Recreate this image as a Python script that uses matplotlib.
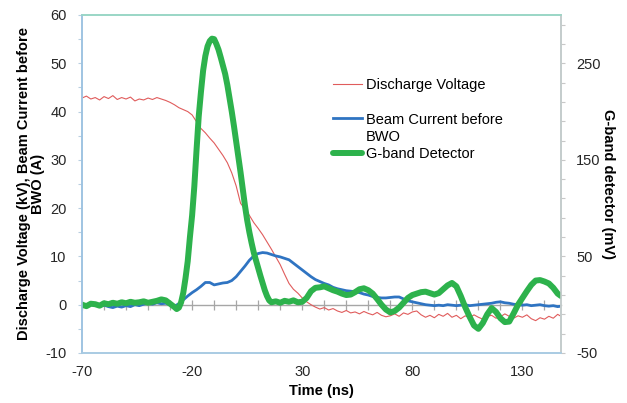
import matplotlib

matplotlib.use("Agg")
import matplotlib.pyplot as plt
from matplotlib.lines import Line2D
from matplotlib.ticker import MultipleLocator

plt.rcParams["font.family"] = ["Liberation Sans", "DejaVu Sans"]

# sampling grid (ns) shared by the discharge voltage and beam current traces
time_ns = [
    -70, -68, -66, -64, -62, -60, -58, -56, -54, -52, -50, -48, -46, -44, -42, -40, -38, -36,
    -34, -32, -30, -28, -26, -24, -22, -20, -18, -16, -14, -12, -10, -8, -6, -4, -2, 0,
    2, 4, 6, 8, 10, 12, 14, 16, 18, 20, 22, 24, 26, 28, 30, 32, 34, 36,
    38, 40, 42, 44, 46, 48, 50, 52, 54, 56, 58, 60, 62, 64, 66, 68, 70, 72,
    74, 76, 78, 80, 82, 84, 86, 88, 90, 92, 94, 96, 98, 100, 102, 104, 106, 108,
    110, 112, 114, 116, 118, 120, 122, 124, 126, 128, 130, 132, 134, 136, 138, 140, 142, 144,
    146, 147.5,
]
voltage_kv = [
    42.8, 43.2, 42.6, 42.9, 42.4, 43.1, 42.7, 43.3, 42.5, 42.9, 42.6, 43.0, 42.2, 42.6, 42.4, 42.8, 42.5, 42.9,
    42.6, 42.3, 41.9, 41.4, 40.8, 40.4, 40.0, 39.3, 37.9, 36.5, 35.6, 34.5, 33.5, 32.2, 30.9, 29.4, 27.3, 24.6,
    21.0, 19.8, 18.5, 17.0, 15.8, 14.5, 13.0, 11.5, 9.9, 8.3, 6.3, 4.4, 3.2, 2.4, 1.4, 0.6, 0.0, -0.5,
    -0.9, -0.6, -1.1, -0.8, -1.3, -1.6, -1.2, -1.7, -1.5, -1.9, -1.4, -1.8, -2.1, -1.6, -2.2, -2.5, -2.3, -1.9,
    -2.4, -1.7, -2.0, -1.5, -1.3, -2.1, -2.6, -2.2, -2.7, -2.0, -2.4, -1.8, -2.6, -2.2, -2.9, -2.3, -2.7, -2.1,
    -2.6, -3.0, -2.4, -2.2, -2.8, -2.5, -1.9, -2.4, -2.8, -2.3, -2.6, -2.1, -2.9, -3.3, -2.7, -3.0, -2.4, -2.8,
    -2.0, -2.4,
]
current_a = [
    0.1, -0.2, 0.2, 0.0, -0.3, -0.1, -0.4, -0.6, -0.3, -0.5, -0.2, -0.4, 0.0, -0.2, 0.1, 0.3, 0.1, 0.4,
    0.2, 0.3, 0.0, -0.3, 0.2, 1.0, 1.8, 2.5, 3.1, 3.8, 4.6, 4.6, 4.1, 4.3, 4.5, 4.6, 5.0, 5.8,
    6.9, 8.0, 9.2, 10.1, 10.6, 10.8, 10.7, 10.4, 10.1, 9.9, 9.6, 9.3, 8.6, 7.9, 7.2, 6.5, 5.8, 5.2,
    4.8, 4.4, 4.1, 3.6, 3.3, 3.1, 2.9, 2.8, 2.7, 2.5, 2.2, 2.0, 1.7, 1.5, 1.4, 1.4, 1.5, 1.6,
    1.6, 1.2, 0.8, 0.6, 0.4, 0.2, 0.0, -0.1, -0.2, -0.1, -0.2, 0.0, -0.1, -0.2, -0.1, 0.0, -0.2, -0.1,
    0.0, 0.1, 0.2, 0.3, 0.5, 0.6, 0.4, 0.3, 0.1, 0.0, -0.1, 0.0, -0.2, -0.1, 0.0, -0.2, -0.3, -0.2,
    -0.4, -0.3,
]

# G-band detector trace, sampled more finely around the pulse
gband_t = [
    -70, -68, -66, -64, -62, -60, -58, -56, -54, -52, -50, -48, -46, -44, -42, -40, -38, -36,
    -34, -32, -30, -28,
    -27, -26, -25, -24, -23, -22, -21, -20, -19, -18, -17, -16, -15, -14, -13, -12, -11, -10,
    -9, -8, -7, -6, -5, -4, -3, -2, -1, 0, 1, 2, 3, 4, 5, 6, 7, 8, 9, 10, 11, 12, 13, 14, 15, 16,
    18, 20, 22, 24, 26, 28, 30, 32, 34, 36, 38, 40, 42, 44, 46, 48, 50, 52, 54, 56, 58, 60,
    62, 64, 66, 68, 70, 72, 74, 76, 78, 80, 82, 84, 86, 88, 90, 92, 94, 96, 98, 100, 102, 104,
    106, 108, 110, 112, 114, 116, 118, 120, 122, 124, 126, 128, 130, 132, 134, 136, 138, 140,
    142, 144, 146, 147.5,
]
gband_mv = [
    0, -1.5, 1, 0.5, -1, 1.5, 0.5, 2, 1, 2.5, 1.5, 3, 2, 2.5, 3.5, 2, 3, 4,
    5.5, 4.5, 1, -2.5,
    -4.5, -3, 2.5, 12.5, 27.5, 45, 70, 92.5, 122.5, 160, 195, 220, 242.5, 257.5, 267.5, 273, 275.5, 275,
    270, 264, 256, 247.5, 239, 227.5, 214, 200, 185, 169, 153, 137, 120, 102.5, 87.5, 75, 64, 54, 46, 38, 30, 22.5, 15, 9, 4.5, 2.5,
    3.5, 2, 4, 3, 4.5, 2.5, 3, 7, 14, 17.5, 18, 19, 17, 15, 13.5, 11.5, 10, 10.5, 13, 16, 17, 15,
    11.5, 6, 0, -5, -8, -6.5, -3, 2, 7, 10, 11.5, 13, 13.5, 12, 10.5, 12, 16, 20, 22.5, 19, 9, -2.5,
    -12.5, -21.5, -25, -19, -10, -3.5, -7.5, -14, -18, -17.5, -9, 0, 7, 14, 20.5, 25, 25.5, 24,
    22, 17.5, 11.5, 9,
]

x_ticks = [-70, -20, 30, 80, 130]
left_ticks = [-10, 0, 10, 20, 30, 40, 50, 60]
right_ticks = [-50, 50, 150, 250]
x_lim = (-70, 147.5)
left_lim = (-10, 60)
right_lim = (-50, 300)

TICK_COLOR = "#262626"
ZERO_COLOR = "#a6a6a6"

fig = plt.figure(figsize=(6.27, 4.03), dpi=100)
ax = fig.add_axes([0.1308, 0.1241, 0.7639, 0.8387])
ax2 = ax.twinx()

(h_v,) = ax.plot(time_ns, voltage_kv, color="#e05c5c", lw=0.8)
(h_c,) = ax.plot(time_ns, current_a, color="#2f74c2", lw=2.0)
(h_g,) = ax2.plot(gband_t, gband_mv, color="#2db24c", lw=4.3,
                  solid_capstyle="round", solid_joinstyle="round")

ax.set_xlim(*x_lim)
ax.set_ylim(*left_lim)
ax2.set_ylim(*right_lim)

ax.set_xticks(x_ticks, [f"{v:g}" for v in x_ticks])
ax.set_yticks(left_ticks, [f"{v:g}" for v in left_ticks])
ax.yaxis.set_minor_locator(MultipleLocator(5))
ax2.set_yticks(right_ticks, [f"{v:g}" for v in right_ticks])
ax2.yaxis.set_minor_locator(MultipleLocator(20, offset=10))

ax.tick_params(axis="x", length=0, pad=9, labelsize=10.5, labelcolor=TICK_COLOR)
ax.tick_params(axis="y", which="both", direction="out", length=3, width=0.8,
               color="#b9cfe0", pad=8, labelsize=10.5, labelcolor=TICK_COLOR)
ax2.tick_params(axis="y", which="both", direction="out", length=3, width=0.8,
                color="#c8c8c8", pad=8, labelsize=10.5, labelcolor=TICK_COLOR)

# horizontal axis crossing at zero with small tick marks
zero = ax.secondary_xaxis((0 - left_lim[0]) / (left_lim[1] - left_lim[0]))
zero.xaxis.set_major_locator(MultipleLocator(10))
zero.tick_params(direction="inout", length=7, width=0.9, color=ZERO_COLOR, labelbottom=False)
zero.spines["bottom"].set_color(ZERO_COLOR)
zero.spines["bottom"].set_linewidth(1.0)

for a in (ax, ax2):
    a.spines["left"].set_color("#9fc4e2")
    a.spines["bottom"].set_color("#a9cbe3")
    a.spines["top"].set_color("#9ad6c6")
    a.spines["right"].set_color("#c4cccc")
    for s in a.spines.values():
        s.set_linewidth(1.2)

ax.set_xlabel("Time (ns)", fontsize=10.5, fontweight="bold", labelpad=3)
ax.set_ylabel("Discharge Voltage (kV), Beam Current before\nBWO (A)",
              fontsize=10.5, fontweight="bold", labelpad=0, linespacing=1.0)
ax2.set_ylabel("G-band detector (mV)", fontsize=10.5, fontweight="bold",
               rotation=270, labelpad=10)

blank = Line2D([], [], color="none")
ax2.legend(
    [h_v, blank, h_c, blank, h_g],
    ["Discharge Voltage", " ", "Beam Current before", "BWO", "G-band Detector"],
    loc="upper left",
    bbox_to_anchor=(0.531, 0.806),
    bbox_transform=fig.transFigure,
    frameon=False,
    fontsize=10.5,
    handlelength=2.0,
    handletextpad=0.25,
    labelspacing=0.22,
    borderpad=0,
    borderaxespad=0,
)

fig.savefig("out.png", dpi=100)
